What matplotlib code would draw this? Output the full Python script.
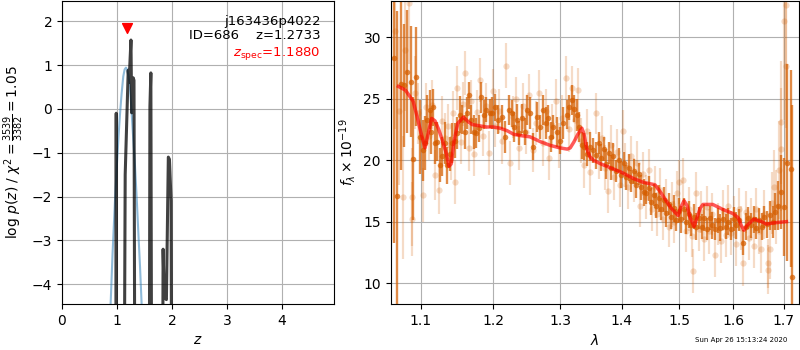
import numpy as np
import matplotlib
matplotlib.use('Agg')
import matplotlib.pyplot as plt
from matplotlib.ticker import NullLocator

# p(z) curves
z_pz = [0.90, 0.978, 0.987, 0.996, 1.125, 1.15, 1.205, 1.22, 1.255, 1.268,
        1.295, 1.31, 1.33, 1.585, 1.60, 1.617, 1.635, 1.825, 1.84, 1.86,
        1.90, 1.935, 1.955, 1.985, 2.0, 4.95]
logp_pz = [-9, -9, -0.1, -9, -9, -1.5, 0.88, 0.6, 1.57, -0.09,
           0.71, 0.65, -9, -9, 0.05, 0.82, -9, -9, -3.2, -4.3,
           -4.35, -1.1, -1.15, -2.1, -9, -9]

z_prior = [0.86, 0.885, 0.92, 0.964, 1.0, 1.03, 1.055, 1.085, 1.115, 1.14,
           1.164, 1.19, 1.21, 1.236, 1.26, 1.29, 1.327, 1.36, 1.388, 1.42,
           1.449, 1.47]
logp_prior = [-5.5, -4.45, -3.3, -2.1, -1.25, -0.6, -0.13, 0.35, 0.74, 0.9,
              0.94, 0.88, 0.75, 0.48, 0.05, -0.55, -1.27, -2.05, -2.79, -3.6,
              -4.45, -5.1]

z_spec = 1.1880
z_best = 1.2733
obj_id = 686
root = 'j163436p4022'

# binned spectrum (dark points)
wave_bin = [1.0653, 1.0691, 1.0747, 1.0781, 1.0825, 1.0868, 1.0898, 1.0937, 1.0990, 1.1030,
            1.1061, 1.1087, 1.1118, 1.1141, 1.1163, 1.1185, 1.1221, 1.1253, 1.1284, 1.1320,
            1.1357, 1.1388, 1.1425, 1.1457, 1.1489, 1.1526, 1.1558, 1.1595, 1.1628, 1.1651,
            1.1688, 1.1721, 1.1759, 1.1792, 1.1830, 1.1863, 1.1901, 1.1949, 1.1979, 1.2027,
            1.2075, 1.2123, 1.2172, 1.2221, 1.2270, 1.2304, 1.2343, 1.2383, 1.2417, 1.2467,
            1.2502, 1.2542, 1.2592, 1.2643, 1.2693, 1.2744, 1.2785, 1.2821, 1.2857, 1.2898,
            1.2950, 1.3002, 1.3054, 1.3106, 1.3148, 1.3185, 1.3222, 1.3264, 1.3306, 1.3343,
            1.3386, 1.3434, 1.3478, 1.3532, 1.3577, 1.3615, 1.3658, 1.3696, 1.3735, 1.3779,
            1.3818, 1.3856, 1.3901, 1.3945, 1.3990, 1.4029, 1.4074, 1.4113, 1.4158, 1.4198,
            1.4243, 1.4283, 1.4329, 1.4369, 1.4415, 1.4455, 1.4501, 1.4542, 1.4589, 1.4630,
            1.4677, 1.4718, 1.4765, 1.4807, 1.4854, 1.4896, 1.4944, 1.4986, 1.5034, 1.5076,
            1.5124, 1.5166, 1.5215, 1.5258, 1.5310, 1.5359, 1.5408, 1.5457, 1.5507, 1.5556,
            1.5606, 1.5656, 1.5706, 1.5757, 1.5807, 1.5858, 1.5909, 1.5960, 1.6011, 1.6062,
            1.6114, 1.6191, 1.6243, 1.6296, 1.6348, 1.6401, 1.6453, 1.6506, 1.6559, 1.6612,
            1.6666, 1.6719, 1.6773, 1.6827, 1.6881, 1.6949, 1.7004, 1.7058, 1.7141, 1.7175]
flux_bin = [28.3, 17.1, 26.2, 26.1, 27.2, 26.4, 20.1, 26.8, 21.9, 20.8,
            21.4, 23.3, 24.1, 22.3, 24.3, 21.4, 21.5, 19.6, 20.3, 21.4,
            19.6, 20.5, 21.4, 21.6, 22.2, 23.7, 23.3, 22.3, 23.8, 25.3,
            23.3, 22.3, 22.2, 22.6, 25.1, 23.7, 24.1, 23.8, 23.8, 24.3,
            23.3, 23.5, 21.9, 24.1, 23.8, 22.7, 23.3, 22.2, 23.4, 22.3,
            24.1, 23.8, 21.1, 23.5, 22.7, 24.1, 23.0, 23.4, 21.9, 22.7,
            22.3, 21.6, 23.0, 23.7, 24.3, 24.9, 24.2, 23.7, 22.7, 21.2,
            21.1, 20.5, 21.1, 20.8, 20.4, 21.4, 20.2, 20.9, 19.7, 20.6,
            19.4, 20.3, 19.1, 20.0, 18.8, 19.8, 18.6, 19.4, 18.3, 19.1,
            18.0, 18.9, 17.8, 17.4, 17.3, 17.7, 16.6, 17.2, 16.3, 16.9,
            16.0, 16.8, 15.7, 16.4, 15.4, 16.1, 15.1, 15.9, 15.2, 16.0,
            15.0, 15.6, 14.7, 15.4, 14.6, 15.3, 14.6, 15.3, 14.4, 15.3,
            14.7, 14.4, 15.1, 14.5, 15.2, 14.6, 15.0, 14.4, 15.2, 14.7,
            15.1, 13.3, 14.6, 15.3, 14.7, 15.2, 14.5, 15.1, 14.6, 15.4,
            14.8, 15.5, 15.0, 15.8, 16.3, 17.4, 16.2, 19.8, 19.3, 10.5]
err_bin = [15, 15, 7, 5, 5, 4.5, 5, 4, 3, 2.5,
           2.2, 2, 1.6, 1.8, 1.5, 1.7, 1.6, 1.4, 1.6, 1.7,
           1.5, 1.4, 1.6, 1.4, 1.3, 1.5, 1.2, 1.4, 1.3, 1.1,
           1.2, 1.4, 1.2, 1.1, 1.3, 1.2, 1.0, 1.2, 1.3, 1.1,
           1.2, 1.0, 1.3, 1.2, 1.1, 1.2, 1.3, 1.0, 1.2, 1.1,
           1.2, 1.3, 1.1, 1.2, 1.0, 1.2, 1.3, 1.1, 1.2, 1.0,
           1.2, 1.1, 1.3, 1.2, 1.0, 1.2, 1.1, 1.3, 1.2, 1.1,
           1.1, 1.0, 1.2, 1.0, 1.1, 0.9, 1.1, 1.0, 1.2, 0.9,
           1.0, 1.1, 0.9, 1.0, 1.1, 0.9, 1.0, 1.1, 0.9, 1.0,
           1.1, 0.9, 1.0, 1.1, 0.9, 1.0, 1.1, 0.9, 1.0, 1.1,
           0.9, 1.0, 1.1, 0.9, 1.0, 1.1, 0.9, 1.0, 1.1, 0.9,
           1.0, 1.1, 0.9, 1.0, 1.1, 0.9, 1.0, 1.1, 0.9, 1.0,
           1.1, 0.9, 1.0, 1.1, 0.9, 1.0, 1.1, 0.9, 1.0, 1.1,
           0.9, 1.0, 1.1, 0.9, 1.0, 1.1, 0.9, 1.0, 1.1, 0.9,
           1.1, 1.2, 1.3, 1.5, 2.0, 3.0, 4.0, 8.0, 8.0, 14.0]

# individual exposures (light points)
wave_raw = [1.0660, 1.0720, 1.0770, 1.0800, 1.0846, 1.0880, 1.0890, 1.0930, 1.0970, 1.1010,
            1.1033, 1.1070, 1.1110, 1.1150, 1.1190, 1.1240, 1.1280, 1.1320, 1.1360, 1.1400,
            1.1440, 1.1466, 1.1490, 1.1540, 1.1570, 1.1600, 1.1650, 1.1690, 1.1730, 1.1770,
            1.1810, 1.1850, 1.1900, 1.1940, 1.1990, 1.2030, 1.2080, 1.2130, 1.2179, 1.2239,
            1.2280, 1.2330, 1.2380, 1.2430, 1.2480, 1.2530, 1.2580, 1.2630, 1.2680, 1.2730,
            1.2780, 1.2830, 1.2880, 1.2930, 1.2980, 1.3030, 1.3095, 1.3140, 1.3190, 1.3240,
            1.3280, 1.3330, 1.3380, 1.3430, 1.3480, 1.3570, 1.3620, 1.3670, 1.3720, 1.3770,
            1.3820, 1.3870, 1.3920, 1.3970, 1.4015, 1.4060, 1.4110, 1.4160, 1.4210, 1.4260,
            1.4310, 1.4360, 1.4410, 1.4460, 1.4510, 1.4560, 1.4610, 1.4660, 1.4710, 1.4760,
            1.4810, 1.4860, 1.4910, 1.4960, 1.5000, 1.5070, 1.5120, 1.5170, 1.5220, 1.5247,
            1.5300, 1.5350, 1.5400, 1.5450, 1.5500, 1.5550, 1.5600, 1.5660, 1.5710, 1.5760,
            1.5810, 1.5860, 1.5910, 1.5960, 1.6010, 1.6060, 1.6110, 1.6160, 1.6197, 1.6250,
            1.6300, 1.6350, 1.6400, 1.6450, 1.6500, 1.6550, 1.6600, 1.6674, 1.6690, 1.6720,
            1.6760, 1.6800, 1.6850, 1.6900, 1.6938, 1.6950, 1.7007, 1.7050, 1.7055]
flux_raw = [30.5, 24.0, 17.0, 29.0, 32.8, 15.2, 17.0, 25.5, 23.8, 21.7,
            17.2, 24.3, 22.0, 24.5, 18.8, 17.6, 23.2, 21.8, 22.8, 20.2,
            23.8, 18.2, 25.9, 21.5, 24.6, 27.1, 21.0, 24.8, 20.5, 23.9,
            26.5, 22.0, 24.4, 20.6, 25.6, 22.8, 24.0, 21.6, 27.7, 19.8,
            23.5, 25.0, 21.0, 24.4, 22.3, 25.3, 20.8, 23.0, 25.5, 21.4,
            24.0, 20.2, 22.9, 24.8, 21.2, 23.4, 26.7, 22.5, 25.9, 23.3,
            25.7, 21.6, 19.6, 22.4, 19.0, 23.8, 20.3, 21.8, 19.4, 17.5,
            21.2, 18.6, 20.7, 18.0, 22.4, 19.6, 17.8, 20.3, 18.4, 19.8,
            16.3, 18.9, 17.0, 19.2, 16.0, 17.8, 15.6, 17.6, 15.2, 16.7,
            14.6, 16.4, 15.0, 17.3, 18.2, 18.4, 14.2, 16.0, 13.8, 11.0,
            17.3, 14.4, 15.8, 13.6, 16.2, 14.2, 15.6, 12.3, 14.8, 13.4,
            15.9, 13.9, 16.3, 14.1, 15.4, 13.2, 16.0, 14.5, 11.6, 15.8,
            13.7, 15.2, 13.0, 16.0, 14.2, 12.8, 15.6, 11.6, 11.1, 12.8,
            16.5, 17.8, 16.2, 19.2, 23.1, 20.9, 31.3, 27.7, 32.6]
err_raw = [8, 6, 5, 5, 5, 3, 4, 3, 2.5, 2.5,
           2.2, 2, 2, 2, 2, 2, 2, 2, 1.8, 1.8,
           1.8, 1.8, 1.8, 1.8, 1.8, 1.8, 1.9, 1.7, 1.8, 1.8,
           1.8, 1.7, 1.9, 1.8, 1.8, 1.7, 1.8, 1.9, 1.8, 1.8,
           1.7, 1.8, 1.8, 1.9, 1.8, 1.7, 1.8, 1.8, 1.8, 1.9,
           1.8, 1.8, 1.7, 1.8, 1.8, 1.9, 1.8, 1.8, 1.8, 1.7,
           1.8, 1.8, 1.9, 1.8, 1.8, 1.7, 1.8, 1.8, 1.8, 1.8,
           1.7, 1.8, 1.8, 1.8, 1.7, 1.8, 1.8, 1.7, 1.8, 1.8,
           1.7, 1.8, 1.8, 1.7, 1.8, 1.7, 1.8, 1.8, 1.7, 1.8,
           1.7, 1.8, 1.7, 1.8, 1.8, 1.8, 1.7, 1.8, 1.7, 1.8,
           1.7, 1.8, 1.7, 1.8, 1.7, 1.8, 1.7, 1.8, 1.7, 1.8,
           1.7, 1.8, 1.7, 1.8, 1.7, 1.8, 1.7, 1.8, 1.8, 1.7,
           1.8, 1.7, 1.8, 1.7, 1.8, 2.0, 2.0, 2.0, 2.0, 2.5,
           2.5, 3.0, 3.0, 4.0, 5.0, 5.0, 8.0, 8.0, 10.0]

# best-fit model
wave_model = [1.0709, 1.080, 1.090, 1.095, 1.100, 1.1057, 1.110, 1.1145, 1.119, 1.124,
              1.129, 1.134, 1.1379, 1.141, 1.145, 1.150, 1.1577, 1.165, 1.170, 1.180,
              1.190, 1.200, 1.210, 1.220, 1.230, 1.240, 1.254, 1.270, 1.285, 1.300,
              1.3114, 1.316, 1.322, 1.328, 1.3345, 1.338, 1.342, 1.347, 1.353, 1.365,
              1.380, 1.400, 1.420, 1.4364, 1.4567, 1.465, 1.475, 1.485, 1.4978, 1.503,
              1.5085, 1.514, 1.519, 1.5266, 1.532, 1.538, 1.5431, 1.5612, 1.580, 1.600,
              1.610, 1.6155, 1.6207, 1.627, 1.640, 1.655, 1.665, 1.680, 1.7055]
flux_model = [26.0, 25.7, 24.8, 23.6, 22.3, 21.0, 22.2, 23.4, 23.2, 22.5,
              21.6, 20.6, 19.5, 19.7, 21.6, 23.0, 23.5, 23.1, 22.9, 22.8,
              22.7, 22.7, 22.6, 22.4, 22.1, 22.0, 21.9, 21.5, 21.2, 21.0,
              20.9, 21.0, 21.5, 22.1, 22.6, 22.1, 21.0, 20.3, 20.0, 19.7,
              19.4, 19.0, 18.5, 18.2, 18.0, 17.5, 16.8, 16.1, 15.5, 16.2,
              16.7, 16.3, 15.4, 14.6, 15.3, 16.1, 16.4, 16.4, 16.0, 15.65,
              15.3, 14.7, 14.3, 14.7, 15.2, 15.0, 14.8, 14.9, 15.0]

chi2_num, chi2_den = 3539, 3382
timestamp = 'Sun Apr 26 15:13:24 2020'
grism_color = '#D55E00'

fig = plt.figure(figsize=(8, 3.5), dpi=100)
ax_pz = fig.add_axes([62 / 800, 46 / 350, 272 / 800, 303 / 350])
ax_sp = fig.add_axes([390.7 / 800, 46 / 350, 408.3 / 800, 303 / 350])

# --- p(z) panel
ax_pz.plot(z_prior, logp_prior, color='tab:blue', alpha=0.5, lw=1.5)
ax_pz.plot(z_pz, logp_pz, color='k', alpha=0.75, lw=2.2)
ax_pz.scatter([z_spec], [1.84], marker='v', color='r', s=50, zorder=5)

ax_pz.text(0.95, 0.955, '{0}\nID={1:<5d}  z={2:.4f}'.format(root, obj_id, z_best),
           ha='right', va='top', transform=ax_pz.transAxes, fontsize=9.5,
           linespacing=1.1)
ax_pz.text(0.95, 0.855, r'$z_\mathrm{spec}$' + '={0:.4f}'.format(z_spec),
           ha='right', va='top', transform=ax_pz.transAxes, fontsize=9.5, color='r')

ax_pz.set_xlim(0, 4.95)
ax_pz.set_ylim(-4.45, 2.46)
ax_pz.set_xticks([0, 1, 2, 3, 4])
ax_pz.set_yticks([-4, -3, -2, -1, 0, 1, 2])
ax_pz.grid()
ax_pz.set_xlabel(r'$z$')
ax_pz.set_ylabel(r'log $p(z)$ / $\chi^2=\frac{' + str(chi2_num) + '}{' + str(chi2_den)
                 + '}=' + '{0:.2f}$'.format(chi2_num / chi2_den))

# --- spectrum panel
ax_sp.errorbar(wave_raw, flux_raw, yerr=err_raw, color=grism_color, alpha=0.22,
               marker='o', ms=4.5, linestyle='None', elinewidth=1.6, mec='none')
ax_sp.errorbar(wave_bin, flux_bin, yerr=err_bin, color=grism_color, alpha=0.72,
               marker='o', ms=4, linestyle='None', elinewidth=1.7, mec='none')
ax_sp.plot(wave_model, flux_model, color='r', alpha=0.65, lw=2.5, zorder=10)

ax_sp.set_xscale('log')
ax_sp.set_xlim(1.0611, 1.7314)
ax_sp.set_ylim(8.3, 32.95)
wave_ticks = [1.1, 1.2, 1.3, 1.4, 1.5, 1.6, 1.7]
ax_sp.set_xticks(wave_ticks)
ax_sp.set_xticklabels(['{0:.1f}'.format(w) for w in wave_ticks])
ax_sp.xaxis.set_minor_locator(NullLocator())
ax_sp.set_yticks([10, 15, 20, 25, 30])
ax_sp.grid()
ax_sp.set_xlabel(r'$\lambda$')
ax_sp.set_ylabel(r'$f_\lambda\times10^{-19}$')

fig.text(0.984, 0.02, timestamp, ha='right', va='bottom', fontsize=5)

fig.savefig('out.png', dpi=100)
